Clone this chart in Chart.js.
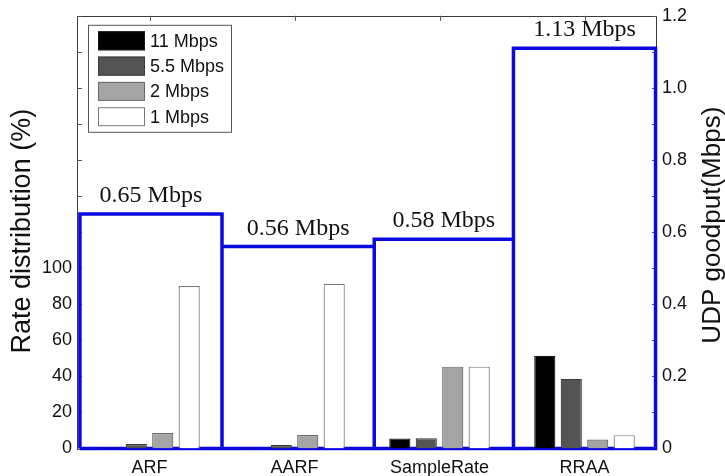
<!DOCTYPE html>
<html><head><meta charset="utf-8">
<script src="https://cdn.jsdelivr.net/npm/chart.js@4.4.1/dist/chart.umd.min.js"></script>
<style>html,body{margin:0;padding:0;background:#fff;}#wrap{width:725px;height:476px;}</style>
</head><body><div id="wrap"><canvas id="c" width="725" height="476"></canvas></div>
<script>
// ---- data ----
const categories = ['ARF', 'AARF', 'SampleRate', 'RRAA'];
const seriesNames = ['11 Mbps', '5.5 Mbps', '2 Mbps', '1 Mbps'];
const rate11 = [0.5, 0.4, 5.6, 51.4];
const rate55 = [2.5, 1.9, 5.7, 38.6];
const rate2 = [8.6, 7.5, 45.4, 5.0];
const rate1 = [90.1, 91.4, 45.4, 7.4];
const goodput = [0.65, 0.56, 0.58, 1.11];
const goodputLabels = ['0.65 Mbps', '0.56 Mbps', '0.58 Mbps', '1.13 Mbps'];
const goodputEdges = [-0.48, 0.5, 1.55, 2.51, 3.49]; // box edges, in category units
const leftLabelMax = 100;
const leftTitle = 'Rate distribution (%)';
const rightTitle = 'UDP goodput(Mbps)';

const fills = ['#000000', '#545454', '#a4a4a4', '#ffffff'];
const borders = ['#1a1a1a', '#3a3a3a', '#6a6a6a', '#7a7a7a'];
const SANS = '"Liberation Sans", Arial, sans-serif';
const SERIF = '"Liberation Serif", "Times New Roman", serif';

// closed boxes path for the goodput line (category units on x)
const goodputPath = [];
for (let i = 0; i < goodput.length; i++) {
  goodputPath.push({x: goodputEdges[i], y: 0});
  goodputPath.push({x: goodputEdges[i], y: goodput[i]});
  goodputPath.push({x: goodputEdges[i + 1], y: goodput[i]});
  goodputPath.push({x: goodputEdges[i + 1], y: 0});
}
goodputPath.push({x: goodputEdges[0], y: 0});

const rateSeries = [rate11, rate55, rate2, rate1];
const barSets = rateSeries.map((d, i) => ({
  type: 'bar', label: seriesNames[i], data: d,
  backgroundColor: fills[i], borderColor: borders[i], borderWidth: 1.2,
  borderSkipped: 'start', xAxisID: 'x', yAxisID: 'y',
  barPercentage: 0.8, categoryPercentage: 0.73
}));

const deco = {
  id: 'deco',
  beforeDatasetsDraw(chart) {
    const {ctx, chartArea: a, scales} = chart;
    ctx.save();
    ctx.strokeStyle = '#3a3a3a';
    ctx.lineWidth = 1;
    ctx.strokeRect(Math.round(a.left) + 0.5, Math.round(a.top) + 0.5, Math.round(a.right - a.left) - 1, Math.round(a.bottom - a.top));
    ctx.strokeStyle = '#555';
    scales.y.ticks.forEach(t => {
      const y = Math.round(scales.y.getPixelForValue(t.value)) + 0.5;
      ctx.beginPath(); ctx.moveTo(a.left, y); ctx.lineTo(a.left + 5, y); ctx.stroke();
    });
    scales.y2.ticks.forEach(t => {
      const y = Math.round(scales.y2.getPixelForValue(t.value)) + 0.5;
      ctx.beginPath(); ctx.moveTo(a.right, y); ctx.lineTo(a.right - 5, y); ctx.stroke();
    });
    categories.forEach((c, i) => {
      const x = Math.round(scales.x.getPixelForValue(i)) + 0.5;
      ctx.beginPath(); ctx.moveTo(x, a.top); ctx.lineTo(x, a.top + 5); ctx.stroke();
    });
    ctx.restore();
  },
  afterDatasetsDraw(chart) {
    const {ctx, chartArea: a, scales} = chart;
    ctx.save();
    ctx.fillStyle = '#111';
    ctx.font = '24px ' + SERIF;
    ctx.textAlign = 'center';
    ctx.textBaseline = 'alphabetic';
    goodput.forEach((g, i) => {
      const x = (scales.x.getPixelForValue(goodputEdges[i]) + scales.x.getPixelForValue(goodputEdges[i + 1])) / 2;
      const y = scales.y2.getPixelForValue(g) - 12;
      ctx.fillText(goodputLabels[i], x, y);
    });
    ctx.font = '27px ' + SANS;
    ctx.save();
    ctx.translate(30, (a.top + a.bottom) / 2 - 1);
    ctx.rotate(-Math.PI / 2);
    ctx.fillText(leftTitle, 0, 0);
    ctx.restore();
    ctx.font = '26px ' + SANS;
    ctx.save();
    ctx.translate(719.5, (a.top + a.bottom) / 2 - 7);
    ctx.rotate(-Math.PI / 2);
    ctx.fillText(rightTitle, 0, 0);
    ctx.restore();
    // legend
    const lx = a.left + 11, ly = a.top + 9, lw = 143, lh = 107;
    ctx.fillStyle = '#fff';
    ctx.fillRect(lx, ly, lw, lh);
    ctx.strokeStyle = '#555';
    ctx.lineWidth = 1;
    ctx.strokeRect(lx + 0.5, ly + 0.5, lw, lh);
    ctx.font = '18px ' + SANS;
    ctx.textAlign = 'left';
    ctx.textBaseline = 'middle';
    chart.data.datasets.filter(d => d.type === 'bar').forEach((d, i) => {
      const cy = ly + 16 + i * 25.3;
      ctx.fillStyle = d.backgroundColor;
      ctx.fillRect(lx + 10, cy - 9.5, 47, 19);
      ctx.strokeStyle = d.borderColor;
      ctx.strokeRect(lx + 10.5, cy - 9, 46, 18);
      ctx.fillStyle = '#111';
      ctx.fillText(d.label, lx + 62, cy + 1);
    });
    ctx.restore();
  }
};

new Chart(document.getElementById('c'), {
  type: 'bar',
  data: {
    labels: categories,
    datasets: [
      ...barSets,
      {
        type: 'line', label: 'UDP goodput', data: goodputPath, parsing: false,
        xAxisID: 'x', yAxisID: 'y2',
        borderColor: '#0a0ae0', borderWidth: 3.5, pointRadius: 0,
        tension: 0, fill: false, clip: false, borderJoinStyle: 'miter'
      }
    ]
  },
  options: {
    responsive: false,
    animation: false,
    devicePixelRatio: 1,
    layout: {padding: {top: 9, left: 0, right: 0, bottom: 0}},
    plugins: {legend: {display: false}, tooltip: {enabled: false}},
    scales: {
      x: {
        type: 'category', offset: true,
        grid: {display: false, drawTicks: false}, border: {display: false},
        ticks: {font: {family: SANS, size: 18}, color: '#111', padding: 9, maxRotation: 0},
        afterFit(s) { s.height = 27.5; }
      },
      y: {
        position: 'left', min: 0, max: 240,
        grid: {display: false, drawTicks: false}, border: {display: false},
        ticks: {
          stepSize: 20, autoSkip: false, padding: 5, color: '#111',
          font: {family: SANS, size: 18},
          callback: v => (v <= leftLabelMax ? String(v) : '')
        },
        afterFit(s) { s.width = 77; }
      },
      y2: {
        position: 'right', min: 0, max: 1.2,
        grid: {display: false, drawTicks: false}, border: {display: false},
        ticks: {
          stepSize: 0.1, autoSkip: false, padding: 5, color: '#111',
          font: {family: SANS, size: 18},
          callback: v => {
            const k = Math.round(v * 10);
            if (k % 2 !== 0) return '';
            return k === 0 ? '0' : (k / 10).toFixed(1);
          }
        },
        afterFit(s) { s.width = 68; }
      }
    }
  },
  plugins: [deco]
});
</script>
</body></html>
